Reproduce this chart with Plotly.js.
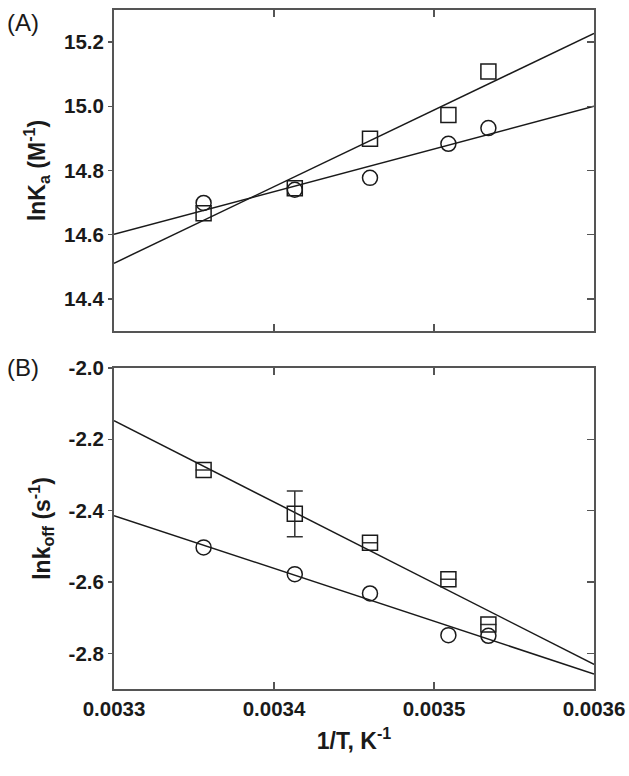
<!DOCTYPE html>
<html>
<head>
<meta charset="utf-8">
<script src="https://cdn.plot.ly/plotly-3.0.1.min.js"></script>
<style>
  html, body { margin: 0; padding: 0; background: #fff; }
  #chart { width: 629px; height: 776px; }
</style>
</head>
<body>
<div id="chart"></div>
<script>
// 1/T values (K^-1)
const invT = [0.003356, 0.003413, 0.00346, 0.003509, 0.003534];

// (A) ln Ka
const lnKaSquares = [14.667, 14.745, 14.899, 14.973, 15.108];
const lnKaCircles = [14.699, 14.740, 14.777, 14.883, 14.932];

// (B) ln koff; only the second square carries an error bar
const lnKoffSquares = [-2.286, -2.409, -2.490, -2.592, -2.719];
const lnKoffSquaresErr = [null, 0.064, null, null, null];
const lnKoffCircles = [-2.503, -2.578, -2.632, -2.749, -2.751];

// fitted lines, endpoints at the axis limits
const fitX = [0.0033, 0.0036];
const fitKaSquares = [14.511, 15.227];
const fitKaCircles = [14.601, 15.0];
const fitKoffSquares = [-2.148, -2.831];
const fitKoffCircles = [-2.414, -2.858];

// tick labels (plain hyphen minus, as printed)
const xTicks = [0.0033, 0.0034, 0.0035, 0.0036];
const xTickText = ["0.0033", "0.0034", "0.0035", "0.0036"];
const kaTicks = [14.4, 14.6, 14.8, 15.0, 15.2];
const kaTickText = ["14.4", "14.6", "14.8", "15.0", "15.2"];
const koffTicks = [-2.8, -2.6, -2.4, -2.2, -2.0];
const koffTickText = ["-2.8", "-2.6", "-2.4", "-2.2", "-2.0"];

const INK = "#1a1a1a";
const AXIS = "#555";
const FONT = "Liberation Sans, Arial, sans-serif";

const markerOpen = (symbol) => ({
  symbol, size: 15, color: "rgba(255,255,255,0)", line: { color: INK, width: 1.5 },
});
const fitLine = { color: INK, width: 1.5 };

const traces = [
  { x: fitX, y: fitKaSquares, xaxis: "x", yaxis: "y", mode: "lines", line: fitLine },
  { x: fitX, y: fitKaCircles, xaxis: "x", yaxis: "y", mode: "lines", line: fitLine },
  { x: invT, y: lnKaSquares, xaxis: "x", yaxis: "y", mode: "markers", marker: markerOpen("square") },
  { x: invT, y: lnKaCircles, xaxis: "x", yaxis: "y", mode: "markers", marker: markerOpen("circle") },

  { x: fitX, y: fitKoffSquares, xaxis: "x2", yaxis: "y2", mode: "lines", line: fitLine },
  { x: fitX, y: fitKoffCircles, xaxis: "x2", yaxis: "y2", mode: "lines", line: fitLine },
  { x: invT, y: lnKoffSquares, xaxis: "x2", yaxis: "y2", mode: "markers", marker: markerOpen("square"),
    error_y: { type: "data", array: lnKoffSquaresErr, visible: true, color: "#333", thickness: 1.5, width: 8 } },
  { x: invT, y: lnKoffCircles, xaxis: "x2", yaxis: "y2", mode: "markers", marker: markerOpen("circle") },

  // carriers for the right-hand inner tick axes
  { x: fitX, y: [15.3, 15.3], xaxis: "x", yaxis: "y3", mode: "lines", line: { width: 0 }, hoverinfo: "skip" },
  { x: fitX, y: [-2.0, -2.0], xaxis: "x2", yaxis: "y4", mode: "lines", line: { width: 0 }, hoverinfo: "skip" },
];

const tickFont = { family: FONT, size: 20.5, color: INK, weight: "bold" };
const titleFont = { family: FONT, size: 23, color: INK, weight: "bold" };

const xBase = {
  range: [0.0033, 0.0036], tickmode: "array", tickvals: xTicks, ticktext: xTickText,
  showline: true, linecolor: AXIS, linewidth: 2, mirror: "ticks",
  ticks: "inside", ticklen: 7, tickwidth: 1.5, tickcolor: AXIS,
  showgrid: false, zeroline: false, tickfont: tickFont,
};
const yBase = {
  showline: true, linecolor: AXIS, linewidth: 2, mirror: true, tickmode: "array",
  ticks: "outside", ticklen: 4, tickwidth: 1.5, tickcolor: AXIS,
  showgrid: false, zeroline: false, tickfont: tickFont,
};
const yRight = {
  side: "right", ticks: "inside", ticklen: 7, tickwidth: 1.5, tickcolor: AXIS, tickmode: "array",
  showticklabels: false, showline: false, showgrid: false, zeroline: false,
};

const layout = {
  width: 629, height: 776,
  margin: { l: 114, r: 35, t: 10, b: 87 },
  paper_bgcolor: "#fff", plot_bgcolor: "#fff",
  showlegend: false,
  font: { family: FONT, color: INK },
  xaxis: { ...xBase, anchor: "y", showticklabels: false },
  yaxis: { ...yBase, domain: [0.5273, 1], range: [14.3, 15.3], tickvals: kaTicks, ticktext: kaTickText,
    title: { text: "lnK<sub>a</sub> (M<sup>-1</sup>)", font: titleFont, standoff: 12 } },
  xaxis2: { ...xBase, anchor: "y2",
    title: { text: "1/T, K<sup>-1</sup>", font: titleFont, standoff: 14 } },
  yaxis2: { ...yBase, domain: [0, 0.4728], range: [-2.9, -2.0], tickvals: koffTicks, ticktext: koffTickText,
    title: { text: "lnk<sub>off</sub> (s<sup>-1</sup>)", font: titleFont, standoff: 12 } },
  yaxis3: { ...yRight, overlaying: "y", anchor: "x", range: [14.3, 15.3], tickvals: kaTicks },
  yaxis4: { ...yRight, overlaying: "y2", anchor: "x2", range: [-2.9, -2.0], tickvals: koffTicks },
  annotations: [
    { text: "(A)", xref: "paper", yref: "paper", x: -0.228, y: 1.004, xanchor: "left", yanchor: "top",
      showarrow: false, font: { family: FONT, size: 24, color: INK } },
    { text: "(B)", xref: "paper", yref: "paper", x: -0.228, y: 0.4965, xanchor: "left", yanchor: "top",
      showarrow: false, font: { family: FONT, size: 24, color: INK } },
  ],
};

Plotly.newPlot("chart", traces, layout, { displayModeBar: false, staticPlot: true });
</script>
</body>
</html>
